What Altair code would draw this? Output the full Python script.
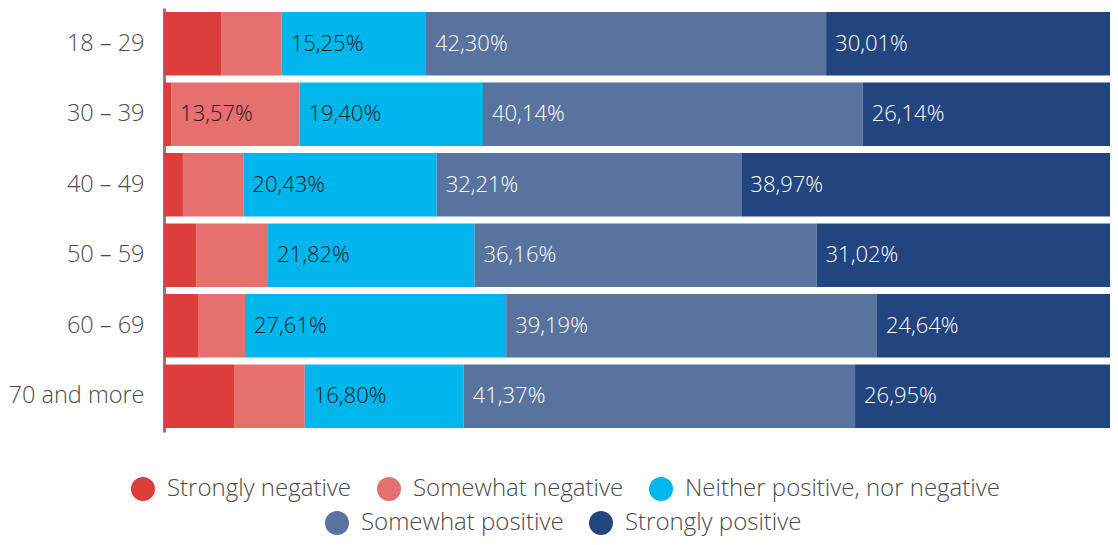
import altair as alt
import pandas as pd

ages = ["18 – 29", "30 – 39", "40 – 49", "50 – 59", "60 – 69", "70 and more"]
categories = ["Strongly negative", "Somewhat negative", "Neither positive, nor negative",
              "Somewhat positive", "Strongly positive"]
colors = ["#DD3E3C", "#E5706E", "#00B6EC", "#58739E", "#22457F"]

strongly_negative = [6.10, 0.75, 2.00, 3.40, 3.60, 7.40]
somewhat_negative = [6.34, 13.57, 6.39, 7.60, 4.96, 7.48]
neither = [15.25, 19.40, 20.43, 21.82, 27.61, 16.80]
somewhat_positive = [42.30, 40.14, 32.21, 36.16, 39.19, 41.37]
strongly_positive = [30.01, 26.14, 38.97, 31.02, 24.64, 26.95]

# which segments carry a printed value label
labelled = [
    [False] * 6,
    [False, True, False, False, False, False],
    [True] * 6,
    [True] * 6,
    [True] * 6,
]
label_colors = ["#1a1a1a", "#1a1a1a", "#1a1a1a", "#ffffff", "#ffffff"]

series = [strongly_negative, somewhat_negative, neither, somewhat_positive, strongly_positive]
rows = []
for ci, (cat, vals) in enumerate(zip(categories, series)):
    for ai, age in enumerate(ages):
        v = vals[ai]
        lab = (f"{v:.2f}".replace(".", ",") + "%") if labelled[ci][ai] else ""
        rows.append({"age": age, "cat": cat, "order": ci, "value": v,
                     "label": lab, "tcolor": label_colors[ci]})
df = pd.DataFrame(rows)

FONT = "Open Sans"

base = alt.Chart(df).transform_window(
    end="sum(value)", groupby=["age"], sort=[alt.SortField("order")], frame=[None, 0]
).transform_calculate(start="datum.end - datum.value")

y_enc = alt.Y("age:N", sort=ages, title=None,
              scale=alt.Scale(paddingInner=0.1, paddingOuter=0.057),
              axis=alt.Axis(ticks=False, domainColor="#808080", domainWidth=3,
                            labelFontSize=23.5, labelColor="#4a4a4a", labelFont=FONT,
                            labelPadding=20, labelFontWeight=300))
x_enc = alt.X("start:Q", scale=alt.Scale(domain=[0, 100], nice=False), axis=None)

def legend(x, y):
    return alt.Legend(title=None, orient="none", legendX=x, legendY=y, direction="horizontal",
                      symbolType="circle", symbolSize=576, symbolStrokeWidth=0,
                      labelFontSize=24, labelFont=FONT, labelColor="#4a4a4a", labelFontWeight=300,
                      labelOffset=12, columnPadding=25, labelLimit=500)

bars_neg = base.transform_filter("datum.order <= 2").mark_bar().encode(
    x=x_enc, x2="end:Q", y=y_enc,
    color=alt.Color("cat:N", scale=alt.Scale(domain=categories[:3], range=colors[:3]),
                    sort=categories[:3], legend=legend(-33, 469)),
)
bars_pos = base.transform_filter("datum.order >= 3").mark_bar().encode(
    x=x_enc, x2="end:Q", y=y_enc,
    color=alt.Color("cat:N", scale=alt.Scale(domain=categories[3:], range=colors[3:]),
                    sort=categories[3:], legend=legend(161, 503)),
)
texts = base.transform_filter("datum.label != ''").mark_text(
    align="left", baseline="middle", dx=9, fontSize=22, font=FONT, fontWeight=300
).encode(
    x=x_enc, y=y_enc, text="label:N",
    color=alt.Color("tcolor:N", scale=None),
)

chart = alt.layer(bars_neg, bars_pos, texts).resolve_scale(color="independent").properties(
    width=946, height=424,
    autosize="none",
    padding={"left": 156, "top": 0, "right": 0, "bottom": 105},
).configure_view(stroke=None)

chart.save("out.html", embed_options={"renderer": "svg", "actions": False})
